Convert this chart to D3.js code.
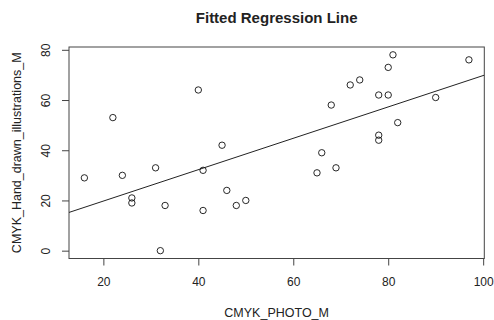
<!DOCTYPE html>
<html>
<head>
<meta charset="utf-8">
<script src="https://cdn.jsdelivr.net/npm/d3@7"></script>
<style>
  body { margin: 0; background: #fff; }
  text { font-family: "Liberation Sans", Arial, sans-serif; fill: #222; }
  .tick line { stroke: #444; }
</style>
</head>
<body>
<div id="chart"></div>
<script>
var svgWidth = 494;
var svgHeight = 320;

// plot region (R style)
var plot = { left: 69, right: 484.3, top: 47, bottom: 258.5 };

// Data
var photoM = [16, 22, 24, 26, 26, 31, 33, 32, 40, 41, 45, 41, 46, 48, 50,
              68, 72, 74, 78, 80, 80, 81, 97, 90, 82, 78, 78, 66, 69, 65];
var handDrawnM = [29, 53, 30, 21, 19, 33, 18, 0, 64, 32, 42, 16, 24, 18, 20,
                  58, 66, 68, 62, 62, 73, 78, 76, 61, 51, 46, 44, 39, 33, 31];
var xTicks = [20, 40, 60, 80, 100];
var yTicks = [0, 20, 40, 60, 80];

var points = photoM.map(function(x, i) { return { x: x, y: handDrawnM[i] }; });

// R pads the data range by 4% on each side
function padded(ext) {
  var d = (ext[1] - ext[0]) * 0.04;
  return [ext[0] - d, ext[1] + d];
}

var xScale = d3.scaleLinear()
  .domain(padded(d3.extent(photoM)))
  .range([plot.left, plot.right]);

var yScale = d3.scaleLinear()
  .domain(padded(d3.extent(handDrawnM)))
  .range([plot.bottom, plot.top]);

// least squares fit
var mx = d3.mean(photoM), my = d3.mean(handDrawnM);
var sxy = d3.sum(points, d => (d.x - mx) * (d.y - my));
var sxx = d3.sum(points, d => (d.x - mx) * (d.x - mx));
var slope = sxy / sxx;
var intercept = my - slope * mx;

var svg = d3.select("#chart")
  .append("svg")
  .attr("width", svgWidth)
  .attr("height", svgHeight);

svg.append("defs").append("clipPath")
  .attr("id", "clip")
  .append("rect")
  .attr("x", plot.left)
  .attr("y", plot.top)
  .attr("width", plot.right - plot.left)
  .attr("height", plot.bottom - plot.top);

// axes
var xAxis = svg.append("g")
  .attr("transform", `translate(0, ${plot.bottom})`)
  .call(d3.axisBottom(xScale).tickValues(xTicks).tickSize(7).tickPadding(12));
xAxis.select(".domain").remove();
xAxis.selectAll("text")
  .attr("font-size", "12px")
  .attr("fill", "#222");

var yAxis = svg.append("g")
  .attr("transform", `translate(${plot.left}, 0)`)
  .call(d3.axisLeft(yScale).tickValues(yTicks).tickSize(7));
yAxis.select(".domain").remove();
yAxis.selectAll("text")
  .attr("font-size", "12px")
  .attr("fill", "#222")
  .attr("text-anchor", "middle")
  .attr("dy", null)
  .attr("x", null)
  .attr("transform", "translate(-19, 0) rotate(-90)");

// box
svg.append("rect")
  .attr("x", plot.left)
  .attr("y", plot.top)
  .attr("width", plot.right - plot.left)
  .attr("height", plot.bottom - plot.top)
  .attr("fill", "none")
  .attr("stroke", "#444");

// regression line
var x0 = xScale.domain()[0], x1 = xScale.domain()[1];
svg.append("line")
  .attr("clip-path", "url(#clip)")
  .attr("x1", xScale(x0))
  .attr("y1", yScale(intercept + slope * x0))
  .attr("x2", xScale(x1))
  .attr("y2", yScale(intercept + slope * x1))
  .attr("stroke", "#222")
  .attr("stroke-width", 1);

// points
svg.append("g").selectAll("circle")
  .data(points)
  .enter()
  .append("circle")
  .attr("cx", d => xScale(d.x))
  .attr("cy", d => yScale(d.y))
  .attr("r", 3.2)
  .attr("fill", "none")
  .attr("stroke", "#111")
  .attr("stroke-width", 0.9);

// title and axis labels
svg.append("text")
  .attr("x", (plot.left + plot.right) / 2)
  .attr("y", 22.5)
  .attr("text-anchor", "middle")
  .attr("font-size", "15px")
  .attr("font-weight", "bold")
  .text("Fitted Regression Line");

svg.append("text")
  .attr("x", (plot.left + plot.right) / 2)
  .attr("y", 316.5)
  .attr("text-anchor", "middle")
  .attr("font-size", "12.5px")
  .text("CMYK_PHOTO_M");

svg.append("text")
  .attr("transform", `translate(20.5, ${(plot.top + plot.bottom) / 2}) rotate(-90)`)
  .attr("text-anchor", "middle")
  .attr("font-size", "12.5px")
  .text("CMYK_Hand_drawn_illustrations_M");
</script>
</body>
</html>
